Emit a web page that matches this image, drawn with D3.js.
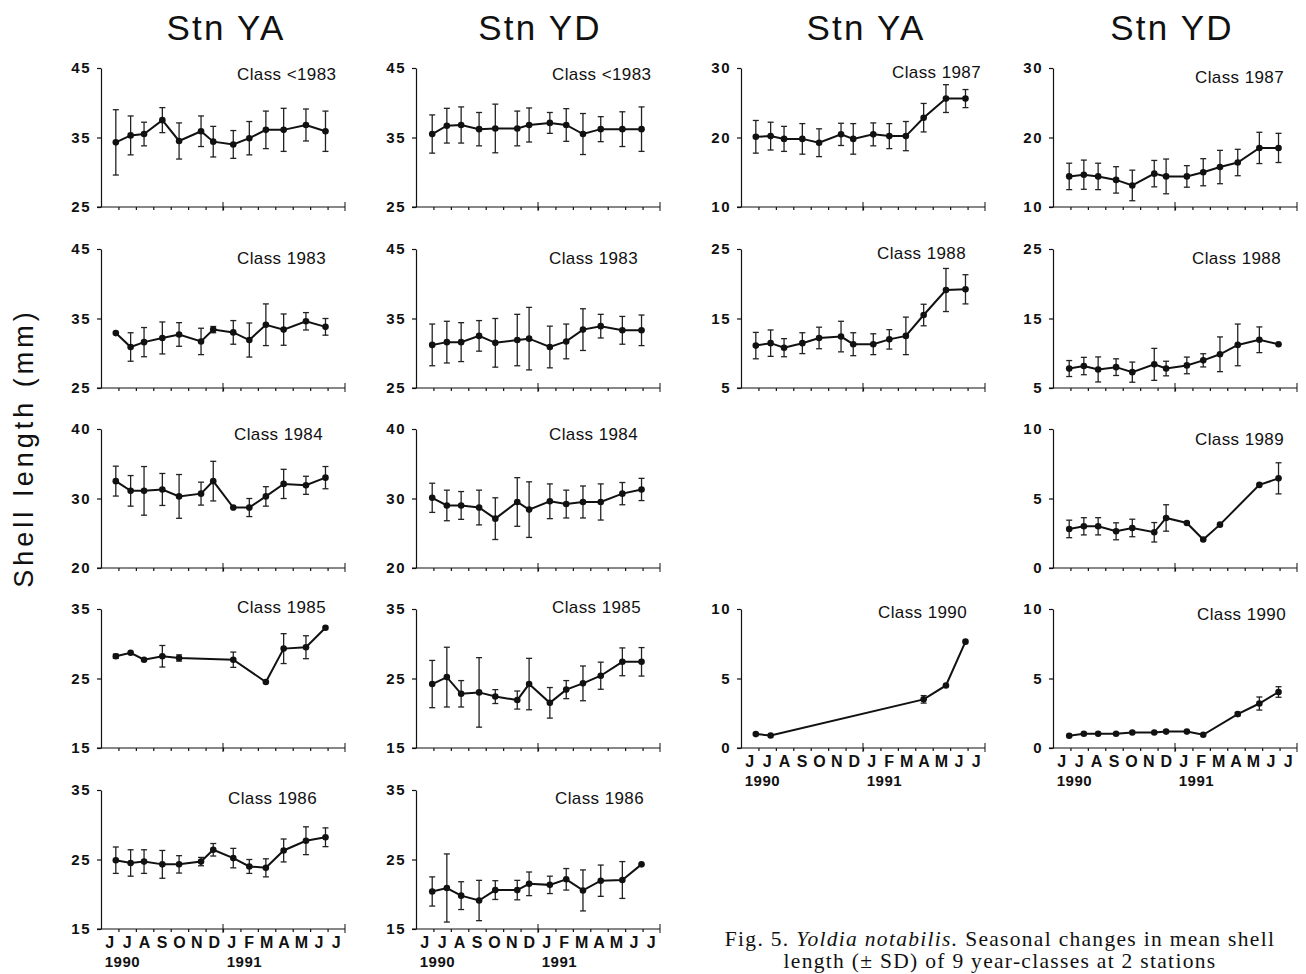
<!DOCTYPE html>
<html>
<head>
<meta charset="utf-8">
<script src="https://cdn.jsdelivr.net/npm/d3@7/dist/d3.min.js"></script>
<style>
  body { margin: 0; background: #fff; }
  text { font-family: "Liberation Sans", Arial, sans-serif; fill: #111; }
</style>
</head>
<body>
<svg id="chart" width="1306" height="974"></svg>
<script>
// *** data: sampling dates as months after 1 June 1990 ***
var monthsYA = [0.85, 1.7, 2.47, 3.52, 4.48, 5.74, 6.44, 7.59, 8.51, 9.46, 10.48, 11.76, 12.88];
var monthsYD = [0.93, 1.77, 2.59, 3.62, 4.55, 5.81, 6.49, 7.68, 8.62, 9.58, 10.6, 11.84, 12.94];

var monthLabels = ["J", "J", "A", "S", "O", "N", "D", "J", "F", "M", "A", "M", "J", "J"];
var yearLabels = ["1990", "1991"];

// mean shell length (mm) and SD, one entry per sampling date (null = not sampled)
var yaLt1983Mean = [34.3, 35.3, 35.5, 37.5, 34.5, 35.9, 34.4, 34.0, 34.9, 36.1, 36.1, 36.8, 35.9];
var yaLt1983Sd   = [4.7, 2.8, 1.7, 1.8, 2.6, 2.2, 2.2, 2.0, 2.4, 2.7, 3.1, 2.3, 2.9];
var ya1983Mean = [32.9, 30.9, 31.6, 32.2, 32.7, 31.7, 33.4, 33.0, 31.9, 34.1, 33.4, 34.6, 33.8];
var ya1983Sd   = [0, 2.05, 2.1, 2.3, 1.7, 1.9, 0.45, 1.7, 2.45, 3.0, 2.25, 1.25, 1.2];
var ya1984Mean = [32.5, 31.1, 31.1, 31.3, 30.3, 30.7, 32.5, 28.7, 28.7, 30.3, 32.1, 31.9, 33.0];
var ya1984Sd   = [2.15, 2.2, 3.5, 2.3, 3.15, 1.65, 2.85, 0, 1.3, 1.4, 2.1, 1.3, 1.6];
var ya1985Mean = [28.2, 28.7, 27.7, 28.2, 27.95, null, null, 27.7, null, 24.5, 29.3, 29.5, 32.3];
var ya1985Sd   = [0.3, 0, 0, 1.55, 0.45, null, null, 1.1, null, 0, 2.15, 1.65, 0];
var ya1986Mean = [24.9, 24.5, 24.7, 24.3, 24.3, 24.7, 26.4, 25.2, 24.0, 23.8, 26.3, 27.7, 28.2];
var ya1986Sd   = [1.9, 1.9, 1.7, 2.0, 1.25, 0.6, 0.9, 1.4, 1.0, 1.3, 1.65, 2.0, 1.35];
var ya1987Mean = [20.1, 20.2, 19.8, 19.8, 19.25, 20.45, 19.8, 20.45, 20.2, 20.2, 22.85, 25.6, 25.6];
var ya1987Sd   = [2.35, 2.0, 1.8, 2.2, 2.0, 1.6, 2.2, 1.65, 1.8, 2.1, 2.05, 2.0, 1.3];
var ya1988Mean = [11.1, 11.45, 10.8, 11.45, 12.2, 12.4, 11.3, 11.3, 12.0, 12.5, 15.5, 19.1, 19.2];
var ya1988Sd   = [1.9, 1.9, 1.3, 1.5, 1.55, 2.2, 1.65, 1.5, 1.4, 2.7, 1.55, 3.1, 2.1];
var ya1990Mean = [1.0, 0.9, null, null, null, null, null, null, null, null, 3.5, 4.5, 7.65];
var ya1990Sd   = [0, 0, null, null, null, null, null, null, null, null, 0.27, 0, 0];

var ydLt1983Mean = [35.5, 36.7, 36.8, 36.2, 36.3, 36.3, 36.8, 37.1, 36.8, 35.5, 36.2, 36.2, 36.2];
var ydLt1983Sd   = [2.75, 2.5, 2.6, 2.4, 3.5, 2.5, 2.45, 1.5, 2.35, 2.95, 1.8, 2.5, 3.2];
var yd1983Mean = [31.2, 31.6, 31.6, 32.5, 31.5, 31.9, 32.1, 30.9, 31.7, 33.4, 33.9, 33.3, 33.3];
var yd1983Sd   = [3.0, 3.0, 2.8, 2.2, 3.5, 3.7, 4.5, 3.0, 2.5, 3.0, 1.7, 2.0, 2.2];
var yd1984Mean = [30.1, 29.0, 29.0, 28.7, 27.1, 29.5, 28.4, 29.6, 29.2, 29.5, 29.5, 30.7, 31.3];
var yd1984Sd   = [2.1, 2.2, 2.0, 2.5, 3.0, 3.5, 4.0, 2.5, 2.0, 2.3, 2.6, 1.6, 1.6];
var yd1985Mean = [24.2, 25.2, 22.8, 23.0, 22.4, 21.9, 24.2, 21.5, 23.4, 24.3, 25.4, 27.4, 27.4];
var yd1985Sd   = [3.4, 4.3, 1.9, 5.0, 1.0, 1.3, 3.7, 2.2, 1.3, 2.5, 1.95, 2.0, 2.05];
var yd1986Mean = [20.4, 20.9, 19.8, 19.1, 20.6, 20.6, 21.5, 21.35, 22.15, 20.55, 21.95, 22.05, 24.3];
var yd1986Sd   = [2.1, 4.9, 2.0, 2.9, 1.35, 1.4, 1.7, 1.25, 1.55, 2.95, 2.25, 2.65, 0];
var yd1987Mean = [14.4, 14.65, 14.4, 13.9, 13.1, 14.8, 14.4, 14.4, 15.0, 15.75, 16.4, 18.5, 18.5];
var yd1987Sd   = [1.9, 2.1, 1.9, 1.9, 2.2, 1.9, 2.5, 1.55, 1.95, 2.4, 1.9, 2.25, 2.1];
var yd1988Mean = [7.8, 8.16, 7.67, 8.0, 7.28, 8.4, 7.8, 8.25, 8.98, 9.85, 11.2, 11.94, 11.3];
var yd1988Sd   = [1.15, 1.25, 1.8, 1.2, 1.45, 2.3, 1.05, 1.2, 0.95, 2.5, 3.0, 1.85, 0];
var yd1989Mean = [2.81, 3.0, 3.0, 2.64, 2.88, 2.57, 3.6, 3.24, 2.05, 3.12, null, 5.98, 6.45];
var yd1989Sd   = [0.63, 0.62, 0.62, 0.61, 0.63, 0.7, 0.95, 0, 0, 0, null, 0, 1.12];
var yd1990Mean = [0.88, 1.02, 1.02, 1.02, 1.11, 1.11, 1.18, 1.18, 0.95, null, 2.44, 3.2, 4.03];
var yd1990Sd   = [0, 0, 0, 0, 0, 0, 0, 0, 0, null, 0.12, 0.47, 0.38];

// *** layout ***
var colX = [101, 416, 741, 1053];
var rowTop = [68, 249, 429, 609, 790];
var plotW = 244, plotH = 139;

var titles = [
    {text: "Stn YA", x: 226}, {text: "Stn YD", x: 540},
    {text: "Stn YA", x: 866}, {text: "Stn YD", x: 1172}
];

// col, row, label, y-range, data, label nudge
var panels = [
    {col: 0, row: 0, label: "Class <1983", y: [25, 45], m: monthsYA, mean: yaLt1983Mean, sd: yaLt1983Sd, dx: 136, dy: 12},
    {col: 0, row: 1, label: "Class 1983",  y: [25, 45], m: monthsYA, mean: ya1983Mean, sd: ya1983Sd, dx: 136, dy: 15},
    {col: 0, row: 2, label: "Class 1984",  y: [20, 40], m: monthsYA, mean: ya1984Mean, sd: ya1984Sd, dx: 133, dy: 11},
    {col: 0, row: 3, label: "Class 1985",  y: [15, 35], m: monthsYA, mean: ya1985Mean, sd: ya1985Sd, dx: 136, dy: 4},
    {col: 0, row: 4, label: "Class 1986",  y: [15, 35], m: monthsYA, mean: ya1986Mean, sd: ya1986Sd, dx: 127, dy: 14, axis: true},
    {col: 1, row: 0, label: "Class <1983", y: [25, 45], m: monthsYD, mean: ydLt1983Mean, sd: ydLt1983Sd, dx: 136, dy: 12},
    {col: 1, row: 1, label: "Class 1983",  y: [25, 45], m: monthsYD, mean: yd1983Mean, sd: yd1983Sd, dx: 133, dy: 15},
    {col: 1, row: 2, label: "Class 1984",  y: [20, 40], m: monthsYD, mean: yd1984Mean, sd: yd1984Sd, dx: 133, dy: 11},
    {col: 1, row: 3, label: "Class 1985",  y: [15, 35], m: monthsYD, mean: yd1985Mean, sd: yd1985Sd, dx: 136, dy: 4},
    {col: 1, row: 4, label: "Class 1986",  y: [15, 35], m: monthsYD, mean: yd1986Mean, sd: yd1986Sd, dx: 139, dy: 14, axis: true},
    {col: 2, row: 0, label: "Class 1987",  y: [10, 30], m: monthsYA, mean: ya1987Mean, sd: ya1987Sd, dx: 151, dy: 10},
    {col: 2, row: 1, label: "Class 1988",  y: [5, 25],  m: monthsYA, mean: ya1988Mean, sd: ya1988Sd, dx: 136, dy: 10},
    {col: 2, row: 3, label: "Class 1990",  y: [0, 10],  m: monthsYA, mean: ya1990Mean, sd: ya1990Sd, dx: 137, dy: 9, axis: true},
    {col: 3, row: 0, label: "Class 1987",  y: [10, 30], m: monthsYD, mean: yd1987Mean, sd: yd1987Sd, dx: 142, dy: 15},
    {col: 3, row: 1, label: "Class 1988",  y: [5, 25],  m: monthsYD, mean: yd1988Mean, sd: yd1988Sd, dx: 139, dy: 15},
    {col: 3, row: 2, label: "Class 1989",  y: [0, 10],  m: monthsYD, mean: yd1989Mean, sd: yd1989Sd, dx: 142, dy: 16},
    {col: 3, row: 3, label: "Class 1990",  y: [0, 10],  m: monthsYD, mean: yd1990Mean, sd: yd1990Sd, dx: 144, dy: 11, axis: true}
];

var svg = d3.select("#chart");

svg.selectAll(".title")
    .data(titles).enter().append("text")
    .attr("class", "title")
    .attr("x", d => d.x)
    .attr("y", 40)
    .attr("text-anchor", "middle")
    .style("font-size", "35px")
    .style("letter-spacing", "2.2px")
    .text(d => d.text);

svg.append("text")
    .attr("transform", "translate(33,448) rotate(-90)")
    .attr("text-anchor", "middle")
    .style("font-size", "27px")
    .style("letter-spacing", "4px")
    .text("Shell length (mm)");

function draw_panel(p) {
    var x0 = colX[p.col], top = rowTop[p.row];

    var x = d3.scaleLinear().domain([0, 14]).range([x0, x0 + plotW]);
    var y = d3.scaleLinear().domain(p.y).range([top + plotH, top]);
    var g = svg.append("g");

    // y axis
    var yAxisG = g.append("g")
        .attr("transform", "translate(" + x0 + ",0)")
        .call(d3.axisLeft(y)
            .tickValues([p.y[0], (p.y[0] + p.y[1]) / 2, p.y[1]])
            .tickSize(4).tickSizeOuter(0).tickPadding(6));
    yAxisG.selectAll("text")
        .style("font-size", "15px").style("font-weight", "bold")
        .style("letter-spacing", "1.5px").style("font-family", "Liberation Sans, Arial, sans-serif");

    // x axis: month ticks plus year boundary tick
    var xAxisG = g.append("g")
        .attr("transform", "translate(0," + (top + plotH) + ")")
        .call(d3.axisBottom(x)
            .tickValues(d3.range(1, 14))
            .tickSize(3).tickSizeOuter(0).tickFormat(""));
    xAxisG.select(".domain").attr("d", "M" + (x0 - 4) + ",0H" + (x0 + plotW));
    [7, 14].forEach(function(m) {
        xAxisG.append("line")
            .attr("x1", x(m)).attr("x2", x(m))
            .attr("y1", -5).attr("y2", 4)
            .attr("stroke", "#111");
    });
    g.selectAll(".domain, .tick line").attr("stroke", "#111").attr("stroke-width", 1.2);

    if (p.axis) {
        g.selectAll(".month")
            .data(monthLabels).enter().append("text")
            .attr("x", (d, i) => x(i + 0.5))
            .attr("y", top + plotH + 19)
            .attr("text-anchor", "middle")
            .style("font-size", "16px").style("font-weight", "bold")
            .text(d => d);
        g.selectAll(".year")
            .data(yearLabels).enter().append("text")
            .attr("x", (d, i) => x(i * 7 + 0.5) - 5)
            .attr("y", top + plotH + 38)
            .style("font-size", "15px").style("font-weight", "bold")
            .style("letter-spacing", "0.5px")
            .text(d => d);
    }

    g.append("text")
        .attr("x", x0 + p.dx)
        .attr("y", top + p.dy)
        .style("font-size", "17px")
        .style("letter-spacing", "0.4px")
        .text(p.label);

    var pts = p.mean.map((v, i) => ({m: p.m[i], v: v, sd: p.sd[i]}))
        .filter(d => d.v !== null);

    g.append("path")
        .attr("d", d3.line().x(d => x(d.m)).y(d => y(d.v))(pts))
        .attr("fill", "none")
        .attr("stroke", "#111")
        .attr("stroke-width", 2);

    var err = g.selectAll(".err")
        .data(pts.filter(d => d.sd > 0)).enter().append("g")
        .attr("stroke", "#222").attr("stroke-width", 1.3);
    err.append("line")
        .attr("x1", d => x(d.m)).attr("x2", d => x(d.m))
        .attr("y1", d => y(d.v + d.sd)).attr("y2", d => y(d.v - d.sd));
    err.append("line")
        .attr("x1", d => x(d.m) - 3).attr("x2", d => x(d.m) + 3)
        .attr("y1", d => y(d.v + d.sd)).attr("y2", d => y(d.v + d.sd));
    err.append("line")
        .attr("x1", d => x(d.m) - 3).attr("x2", d => x(d.m) + 3)
        .attr("y1", d => y(d.v - d.sd)).attr("y2", d => y(d.v - d.sd));

    g.selectAll(".dot")
        .data(pts).enter().append("circle")
        .attr("cx", d => x(d.m))
        .attr("cy", d => y(d.v))
        .attr("r", 3.3)
        .attr("fill", "#111");
}

panels.forEach(draw_panel);

// caption
var caption = svg.append("text")
    .attr("text-anchor", "middle")
    .style("font-family", "Liberation Serif, Times New Roman, serif")
    .style("font-size", "21.5px")
    .style("letter-spacing", "1.3px");
var line1 = caption.append("tspan").attr("x", 1000).attr("y", 946);
line1.append("tspan").text("Fig. 5. ");
line1.append("tspan").style("font-style", "italic").text("Yoldia notabilis.");
line1.append("tspan").text(" Seasonal changes in mean shell");
caption.append("tspan").attr("x", 1000).attr("y", 968)
    .text("length (\u00b1 SD) of 9 year-classes at 2 stations");
</script>
</body>
</html>
